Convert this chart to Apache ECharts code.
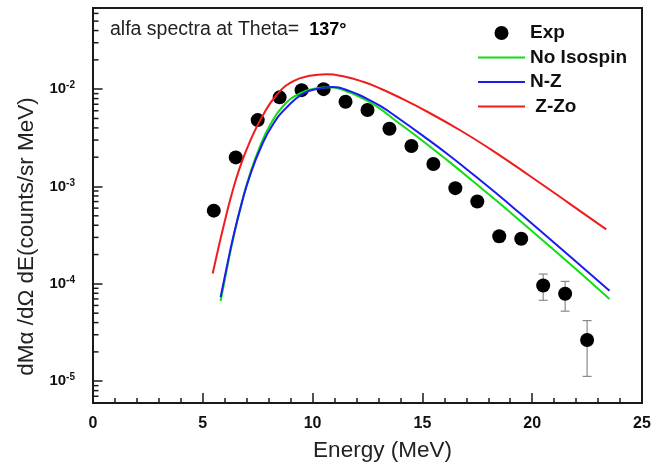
<!DOCTYPE html>
<html><head><meta charset="utf-8">
<script src="https://cdn.jsdelivr.net/npm/echarts@6/dist/echarts.min.js"></script>
<style>html,body{margin:0;padding:0;background:#fff}#c{width:666px;height:467px}</style>
</head><body><div id="c"></div><script>
// ---- data ----
const expE   = [5.5, 6.5, 7.5, 8.5, 9.5, 10.5, 11.5, 12.5, 13.5, 14.5, 15.5, 16.5, 17.5, 18.5, 19.5, 20.5, 21.5, 22.5];
const expVal = [5.65e-4, 1.99e-3, 4.81e-3, 8.24e-3, 9.77e-3, 1.0e-2, 7.43e-3, 6.11e-3, 3.92e-3, 2.61e-3, 1.70e-3, 9.62e-4, 7.01e-4, 3.08e-4, 2.91e-4, 9.62e-5, 7.91e-5, 2.65e-5];
const errE    = [18.5, 19.5, 20.5, 21.5, 22.5];
const errLow  = [2.70e-4, 2.60e-4, 6.78e-5, 5.24e-5, 1.12e-5];
const errHigh = [3.35e-4, 3.20e-4, 1.26e-4, 1.06e-4, 4.19e-5];

const noIsoE   = [5.81, 6.10, 6.38, 6.77, 7.14, 7.60, 8.05, 8.66, 9.42, 10.18, 10.78, 11.54, 12.30, 13.00, 13.82, 15.03, 16.24, 17.46, 18.50, 19.43, 21.70, 23.52];
const noIsoVal = [6.67e-5, 1.435e-4, 2.88e-4, 6.75e-4, 1.33e-3, 2.57e-3, 4.23e-3, 6.71e-3, 9.04e-3, 1.021e-2, 1.047e-2, 9.51e-3, 7.98e-3, 6.46e-3, 4.68e-3, 2.92e-3, 1.78e-3, 1.06e-3, 6.76e-4, 4.47e-4, 1.62e-4, 7.00e-5];

const nzE   = [5.81, 6.08, 6.38, 6.77, 7.14, 7.68, 8.20, 8.81, 9.57, 10.33, 10.93, 11.69, 12.45, 13.10, 13.82, 15.03, 16.24, 17.46, 18.50, 19.43, 21.70, 23.52];
const nzVal = [7.31e-5, 1.45e-4, 2.99e-4, 6.71e-4, 1.28e-3, 2.64e-3, 4.36e-3, 6.46e-3, 8.99e-3, 1.016e-2, 1.054e-2, 9.55e-3, 8.04e-3, 6.68e-3, 5.19e-3, 3.31e-3, 2.07e-3, 1.25e-3, 8.04e-4, 5.33e-4, 1.93e-4, 8.51e-5];

const zzE   = [5.45, 5.70, 6.00, 6.31, 6.70, 7.14, 7.70, 8.36, 9.10, 9.87, 10.63, 11.39, 12.30, 13.06, 13.82, 15.33, 16.85, 18.06, 19.88, 21.70, 23.37];
const zzVal = [1.28e-4, 2.28e-4, 4.40e-4, 8.22e-4, 1.60e-3, 2.87e-3, 5.20e-3, 8.71e-3, 1.20e-2, 1.37e-2, 1.42e-2, 1.355e-2, 1.19e-2, 1.02e-2, 8.51e-3, 5.69e-3, 3.63e-3, 2.45e-3, 1.29e-3, 6.68e-4, 3.63e-4];

const xTicks = [0, 5, 10, 15, 20, 25];
const yDecades = [-6, -5, -4, -3, -2];

// ---- helpers ----
const F = '"Liberation Sans", Arial, Helvetica, sans-serif';
const zip = (a, b) => a.map((v, i) => [v, b[i]]);
const yMin = 5.97e-6, yMax = 6.82e-2;
const yMinorTicks = [];
yDecades.forEach(d => { for (let k = 2; k <= 9; k++) { const v = k * Math.pow(10, d); if (v > yMin * 1.01 && v < yMax) yMinorTicks.push([0, v]); } });

const chart = echarts.init(document.getElementById('c'));
chart.setOption({
  backgroundColor: '#fff',
  animation: false,
  title: {
    left: 110, top: 20, padding: 0,
    text: '{a|alfa spectra at Theta=}  {b|137°}',
    textStyle: { fontWeight: 'normal', rich: {
      a: { fontFamily: F, fontSize: 19.5, fontWeight: 'normal', color: '#222' },
      b: { fontFamily: F, fontSize: 18, fontWeight: 'bold', color: '#000' }
    } }
  },
  grid: { left: 93, right: 24, top: 8, bottom: 60, show: true, borderColor: '#1a1a1a', borderWidth: 2, backgroundColor: 'transparent' },
  legend: {
    orient: 'vertical', left: 477, top: 23, padding: 0,
    itemWidth: 47, itemHeight: 14, itemGap: 4.5,
    textStyle: { fontFamily: F, fontSize: 19, fontWeight: 'bold', color: '#111', lineHeight: 20 },
    data: [
      { name: 'Exp', icon: 'circle' },
      { name: 'No Isospin', itemStyle: { opacity: 0 } },
      { name: 'N-Z', itemStyle: { opacity: 0 } },
      { name: ' Z-Zo', itemStyle: { opacity: 0 } }
    ]
  },
  xAxis: {
    type: 'value', min: 0, max: 25, interval: 5,
    name: 'Energy (MeV)', nameLocation: 'middle', nameGap: 36,
    nameTextStyle: { fontFamily: F, fontSize: 22.5, color: '#222', padding: [0, 0, 0, 30] },
    axisLine: { show: true, lineStyle: { color: '#1a1a1a', width: 2 } },
    axisTick: { show: true, inside: true, length: 10, lineStyle: { color: '#1a1a1a', width: 1.5 } },
    minorTick: { show: true, splitNumber: 5, length: 5, lineStyle: { color: '#1a1a1a', width: 1.5 } },
    axisLabel: { margin: 13, fontFamily: F, fontSize: 16, fontWeight: 'bold', color: '#111' },
    splitLine: { show: false }
  },
  yAxis: {
    type: 'log', logBase: 10, min: yMin, max: yMax,
    name: 'dMα /dΩ dE(counts/sr MeV)', nameLocation: 'middle', nameGap: 35,
    nameTextStyle: { fontFamily: F, fontSize: 22.5, color: '#222', padding: [0, 62, 0, 0] },
    axisLine: { show: true, lineStyle: { color: '#1a1a1a', width: 2 } },
    axisTick: { show: true, inside: true, length: 9.5, lineStyle: { color: '#1a1a1a', width: 1.5 } },
    axisLabel: {
      margin: 18, showMinLabel: false, showMaxLabel: false,
      formatter: function (v) {
        const e = Math.log10(v), r = Math.round(e);
        if (Math.abs(e - r) > 1e-6) return '';
        return '{b|10}{s|' + r + '}';
      },
      rich: {
        b: { fontFamily: F, fontSize: 15, fontWeight: 'bold', color: '#111', lineHeight: 17 },
        s: { fontFamily: F, fontSize: 10, fontWeight: 'bold', color: '#111', lineHeight: 10, verticalAlign: 'top' }
      }
    },
    splitLine: { show: false }
  },
  series: [
    {
      // minor ticks of the log y axis, placed through the axis scale
      name: 'yMinor', type: 'scatter', z: 10, silent: true, legendHoverLink: false,
      symbol: 'rect', symbolSize: [5.5, 1.5], symbolOffset: [2.75, 0],
      itemStyle: { color: '#1a1a1a', opacity: 1 }, data: yMinorTicks
    },
    {
      name: 'errorbars', type: 'custom', silent: true, z: 2,
      data: errE.map((e, i) => [e, errLow[i], errHigh[i]]), encode: { x: 0, y: [1, 2] },
      renderItem: function (params, api) {
        const lo = api.coord([api.value(0), api.value(1)]);
        const hi = api.coord([api.value(0), api.value(2)]);
        const w = 4.5, st = { stroke: '#8a8a8a', lineWidth: 1.2 };
        return { type: 'group', children: [
          { type: 'line', shape: { x1: lo[0], y1: lo[1], x2: hi[0], y2: hi[1] }, style: st },
          { type: 'line', shape: { x1: lo[0] - w, y1: lo[1], x2: lo[0] + w, y2: lo[1] }, style: st },
          { type: 'line', shape: { x1: hi[0] - w, y1: hi[1], x2: hi[0] + w, y2: hi[1] }, style: st }
        ] };
      }
    },
    {
      name: 'Exp', type: 'scatter', z: 3, symbol: 'circle', symbolSize: 14,
      itemStyle: { color: '#000', opacity: 1 }, data: zip(expE, expVal)
    },
    {
      name: 'No Isospin', type: 'line', z: 4, smooth: 0.5, symbol: 'none', showSymbol: false,
      lineStyle: { color: '#10e010', width: 2 }, itemStyle: { color: '#10e010' },
      data: zip(noIsoE, noIsoVal)
    },
    {
      name: 'N-Z', type: 'line', z: 4, smooth: 0.5, symbol: 'none', showSymbol: false,
      lineStyle: { color: '#1c1cf0', width: 2 }, itemStyle: { color: '#1c1cf0' },
      data: zip(nzE, nzVal)
    },
    {
      name: ' Z-Zo', type: 'line', z: 4, smooth: 0.5, symbol: 'none', showSymbol: false,
      lineStyle: { color: '#f01c1c', width: 2 }, itemStyle: { color: '#f01c1c' },
      data: zip(zzE, zzVal)
    }
  ]
});
</script></body></html>
